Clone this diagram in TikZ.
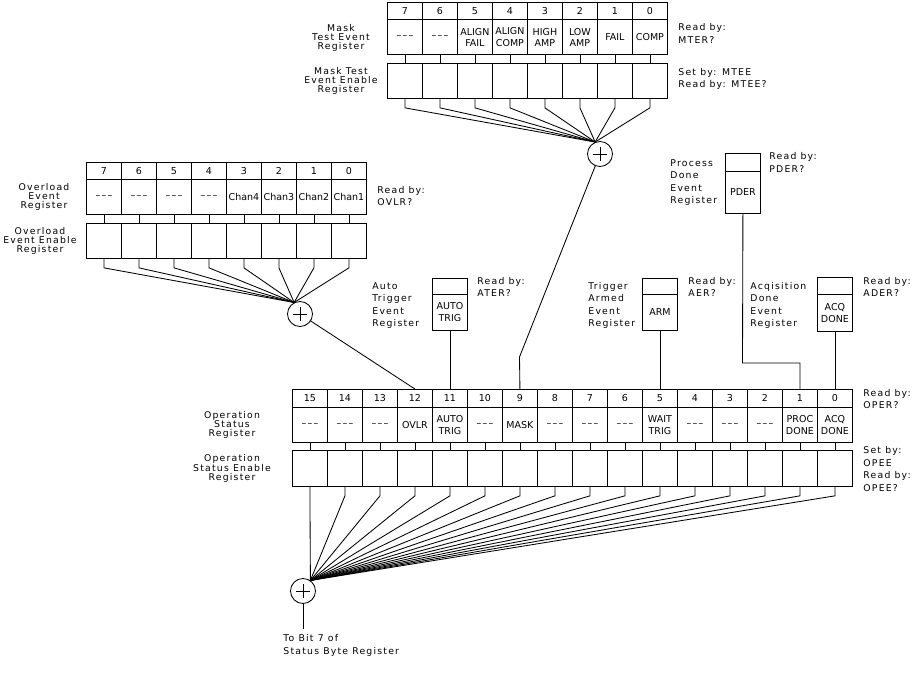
\documentclass[tikz,border=0pt]{standalone}
\usepackage{fontspec}
\setmainfont{DejaVu Sans}
\newfontfamily\lblfont{DejaVu Sans}[LetterSpace=13]
\newfontfamily\cellfont{DejaVu Sans}
\newcommand\tripdash{–\kern1.3pt–\kern1.3pt–}
\begin{document}
\begin{tikzpicture}[x=1pt,y=-1pt, line width=0.85pt,
  cellbase/.style={draw, minimum width=35pt, inner sep=0pt, anchor=north west,
    font=\cellfont\fontsize{9.5}{11.8}\selectfont, align=center},
  numcell/.style={cellbase, minimum height=17.5pt},
  stcell/.style={cellbase, minimum height=35pt},
  encell/.style={cellbase, minimum height=35pt},
  sumnode/.style={draw, circle, minimum size=25pt, inner sep=0pt,
    path picture={\draw[line width=0.75pt]
      ([xshift=-7pt]path picture bounding box.center) -- ([xshift=7pt]path picture bounding box.center)
      ([yshift=-7pt]path picture bounding box.center) -- ([yshift=7pt]path picture bounding box.center);}},
  lblc/.style={font=\lblfont\fontsize{9.3}{9}\selectfont, align=center, inner sep=0pt},
  lbll/.style={font=\lblfont\fontsize{9.3}{12.5}\selectfont, align=left, inner sep=0pt, anchor=west}
]
\fill[white] (0,0) rectangle (914,687);
\useasboundingbox (0,0) rectangle (914,687);

% ---------- Mask Test registers ----------
\node[sumnode] (msum) at (600,154) {};
\coordinate (mconv) at (msum.112);
\foreach \t [count=\i from 0] in {{\tripdash},{\tripdash},{ALIGN\\FAIL},{ALIGN\\COMP},{HIGH\\AMP},{LOW\\AMP},{FAIL},{COMP}} {
  \pgfmathtruncatemacro{\b}{7-\i}
  \node[numcell] (mn\b) at (387+35*\i,2) {\b};
  \node[stcell] (ms\b) at (387+35*\i,19.5) {\t};
  \node[encell] (me\b) at (387+35*\i,63) {};
  \draw (ms\b.south) -- (me\b.north);
  \draw (me\b.south) -- ++(0,9) -- (mconv);
}

% ---------- Overload registers ----------
\node[sumnode] (osum) at (300,314) {};
\coordinate (oconv) at (osum.117);
\foreach \t [count=\i from 0] in {{\tripdash},{\tripdash},{\tripdash},{\tripdash},{Chan4},{Chan3},{Chan2},{Chan1}} {
  \pgfmathtruncatemacro{\b}{7-\i}
  \node[numcell] (on\b) at (86+35*\i,162) {\b};
  \node[stcell] (os\b) at (86+35*\i,179.5) {\t};
  \node[encell] (oe\b) at (86+35*\i,223) {};
  \draw (os\b.south) -- (oe\b.north);
  \draw (oe\b.south) -- ++(0,9) -- (oconv);
}

% ---------- Operation status registers ----------
\node[sumnode] (psum) at (303,591) {};
\coordinate (pconv) at (psum.55);
\foreach \t [count=\i from 0] in {{\tripdash},{\tripdash},{\tripdash},{OVLR},{AUTO\\TRIG},{\tripdash},{MASK},{\tripdash},{\tripdash},{\tripdash},{WAIT\\TRIG},{\tripdash},{\tripdash},{\tripdash},{PROC\\DONE},{ACQ\\DONE}} {
  \pgfmathtruncatemacro{\b}{15-\i}
  \node[numcell, minimum height=18pt] (pn\b) at (292+35*\i,389) {\b};
  \node[stcell] (ps\b) at (292+35*\i,407) {\t};
  \node[encell, minimum height=36pt] (pe\b) at (292+35*\i,450) {};
  \draw (ps\b.south) -- (pe\b.north);
  \draw (pe\b.south) -- ++(0,9) -- (pconv);
}

% ---------- small event registers ----------
\node[cellbase, minimum height=16pt] (atT) at (432,278) {};
\node[cellbase, minimum height=36pt] (at) at (432,294) {AUTO\\TRIG};
\node[cellbase, minimum height=16pt] (armT) at (642,278) {};
\node[cellbase, minimum height=36pt] (arm) at (642,294) {ARM};
\node[cellbase, minimum height=17pt] (acqT) at (817,277) {};
\node[cellbase, minimum height=37pt] (acq) at (817,294) {ACQ\\DONE};
\node[cellbase, minimum height=18pt] (pderT) at (725,153) {};
\node[cellbase, minimum height=42pt] (pder) at (725,171) {PDER};

% ---------- connectors into operation register ----------
\draw (at.south) -- (pn11.north);
\draw (arm.south) -- (pn5.north);
\draw (acq.south) -- (pn0.north);
\coordinate (pbend) at (742.5,363);
\draw (pder.south) -- (pbend) -| (pn1.north);
\coordinate (mbend) at (519.5,357);
\draw (msum) -- (mbend) -- (pn9.north);
\draw (osum) -- (pn12.north);
\coordinate (pout) at (303,629);
\draw (psum) -- (pout);

% ---------- labels ----------
\node[lblc] (lmev) at (341,37.5) {Mask\\Test Event\\Register};
\node[lblc] (lmen) at (341,81) {Mask Test\\Event Enable\\Register};
\node[lbll] (lmr) at (678,33.5) {Read by:\\MTER?};
\node[lbll] (lms) at (678,79) {Set by: MTEE\\Read by: MTEE?};
\node[lblc] (loev) at (44,197) {Overload\\Event\\Register};
\node[lblc] (loen) at (40,241) {Overload\\Event Enable\\Register};
\node[lbll] (lor) at (377,196) {Read by:\\OVLR?};
\node[lblc] (lpst) at (232,425) {Operation\\Status\\Register};
\node[lblc] (lpen) at (232,468.5) {Operation\\Status Enable\\Register};
\node[lbll] (lpr) at (863,399) {Read by:\\OPER?};
\node[lbll] (lpe) at (863,469) {Set by:\\OPEE\\Read by:\\OPEE?};
\node[lbll] (lat) at (372,305.5) {Auto\\Trigger\\Event\\Register};
\node[lbll] (latr) at (477,287) {Read by:\\ATER?};
\node[lbll] (lar) at (588,305.5) {Trigger\\Armed\\Event\\Register};
\node[lbll] (larr) at (688,287) {Read by:\\AER?};
\node[lbll] (laq) at (750,305.5) {Acqisition\\Done\\Event\\Register};
\node[lbll] (laqr) at (863,287) {Read by:\\ADER?};
\node[lbll] (lpd) at (670,182.5) {Process\\Done\\Event\\Register};
\node[lbll] (lpdr) at (769,162.5) {Read by:\\PDER?};
\node[lbll] (lout) at (283,645.5) {To Bit 7 of\\Status Byte Register};
\end{tikzpicture}
\end{document}
